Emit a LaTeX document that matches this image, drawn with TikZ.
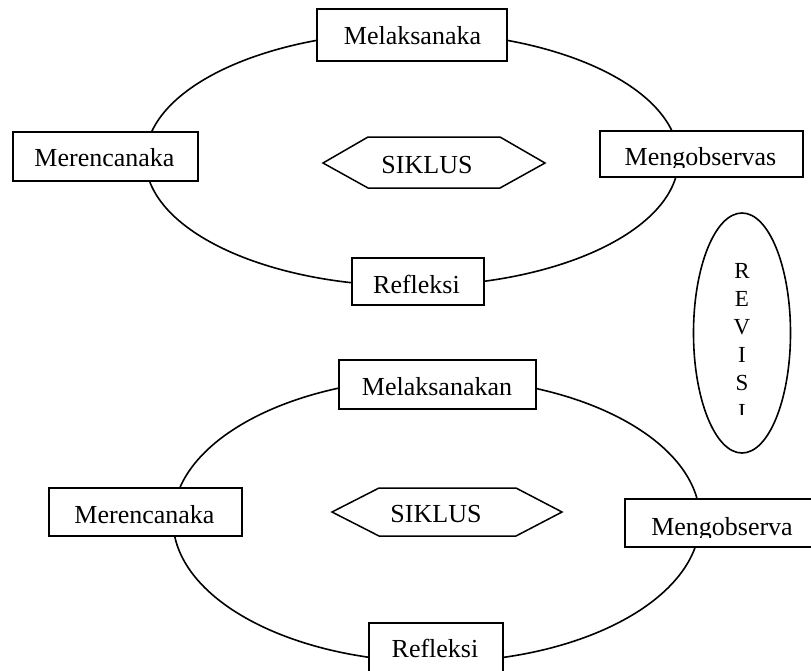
\documentclass[tikz,border=0pt]{standalone}
\usepackage{fontspec}
\setmainfont{Liberation Serif}
\begin{document}
\begin{tikzpicture}[x=1pt,y=-1pt,line width=1.6pt]
\tikzset{
  boxnode/.style={draw,fill=white,inner sep=0pt},
  lbl/.style={anchor=base,inner sep=0pt,font=\fontsize{26}{31}\selectfont},
  revlbl/.style={anchor=base,inner sep=0pt,font=\fontsize{23}{28}\selectfont},
  hexline/.style={draw,line width=1.5pt},
}
\useasboundingbox (0,0) rectangle (811,670);
\clip (0,0) rectangle (811,670);

% ---------- upper cycle ----------
\draw (412,159) ellipse [x radius=266.5pt, y radius=127pt];
\node[boxnode,minimum width=190pt,minimum height=52pt] (m1) at (412,35) {};
\node[boxnode,minimum width=185pt,minimum height=49pt] (r1) at (105.5,156.5) {};
\node[boxnode,minimum width=203pt,minimum height=46pt] (o1) at (701.5,154) {};
\node[boxnode,minimum width=132pt,minimum height=47pt] (f1) at (418,281.5) {};
\node[lbl] (m1t) at (412.5,44) {Melaksanaka};
\node[lbl] (r1t) at (104.5,166) {Merencanaka};
\begin{scope}
  \clip (600,131) rectangle (803,167.5);
  \node[lbl] (o1t) at (700.5,165) {Mengobservas};
\end{scope}
\node[lbl] (f1t) at (416.5,293) {Refleksi};
\draw[hexline] (323,163) -- (368,137) -- (500,137) -- (545,163) -- (500,188) -- (368,188) -- cycle;
\node[lbl] (s1) at (427,173) {SIKLUS};

% ---------- lower cycle ----------
\draw (436.5,520) ellipse [x radius=263.5pt, y radius=142pt];
\node[boxnode,minimum width=197pt,minimum height=49pt] (m2) at (437.5,384.5) {};
\node[boxnode,minimum width=193pt,minimum height=48pt] (r2) at (145.5,512) {};
\node[boxnode,minimum width=190pt,minimum height=48pt] (o2) at (720,523) {};
\node[boxnode,minimum width=134pt,minimum height=52pt] (f2) at (436,649) {};
\node[lbl] (m2t) at (437,395) {Melaksanakan};
\node[lbl] (r2t) at (144.5,523) {Merencanaka};
\begin{scope}
  \clip (625,499) rectangle (811,537);
  \node[lbl] (o2t) at (722,535) {Mengobserva};
\end{scope}
\node[lbl] (f2t) at (435,657) {Refleksi};
\draw[hexline] (332,512) -- (379,488) -- (516,488) -- (562,512) -- (516,536) -- (379,536) -- cycle;
\node[lbl] (s2) at (436,522) {SIKLUS};

% ---------- REVISI ----------
\draw (742,333) ellipse [x radius=48.5pt, y radius=120pt];
\begin{scope}
  \clip (700,240) rectangle (785,414);
  \foreach \l [count=\i from 0] in {R,E,V,I,S,I}
    \node[revlbl] (rv\i) at (742,278+28.2*\i) {\l};
\end{scope}
\end{tikzpicture}
\end{document}
